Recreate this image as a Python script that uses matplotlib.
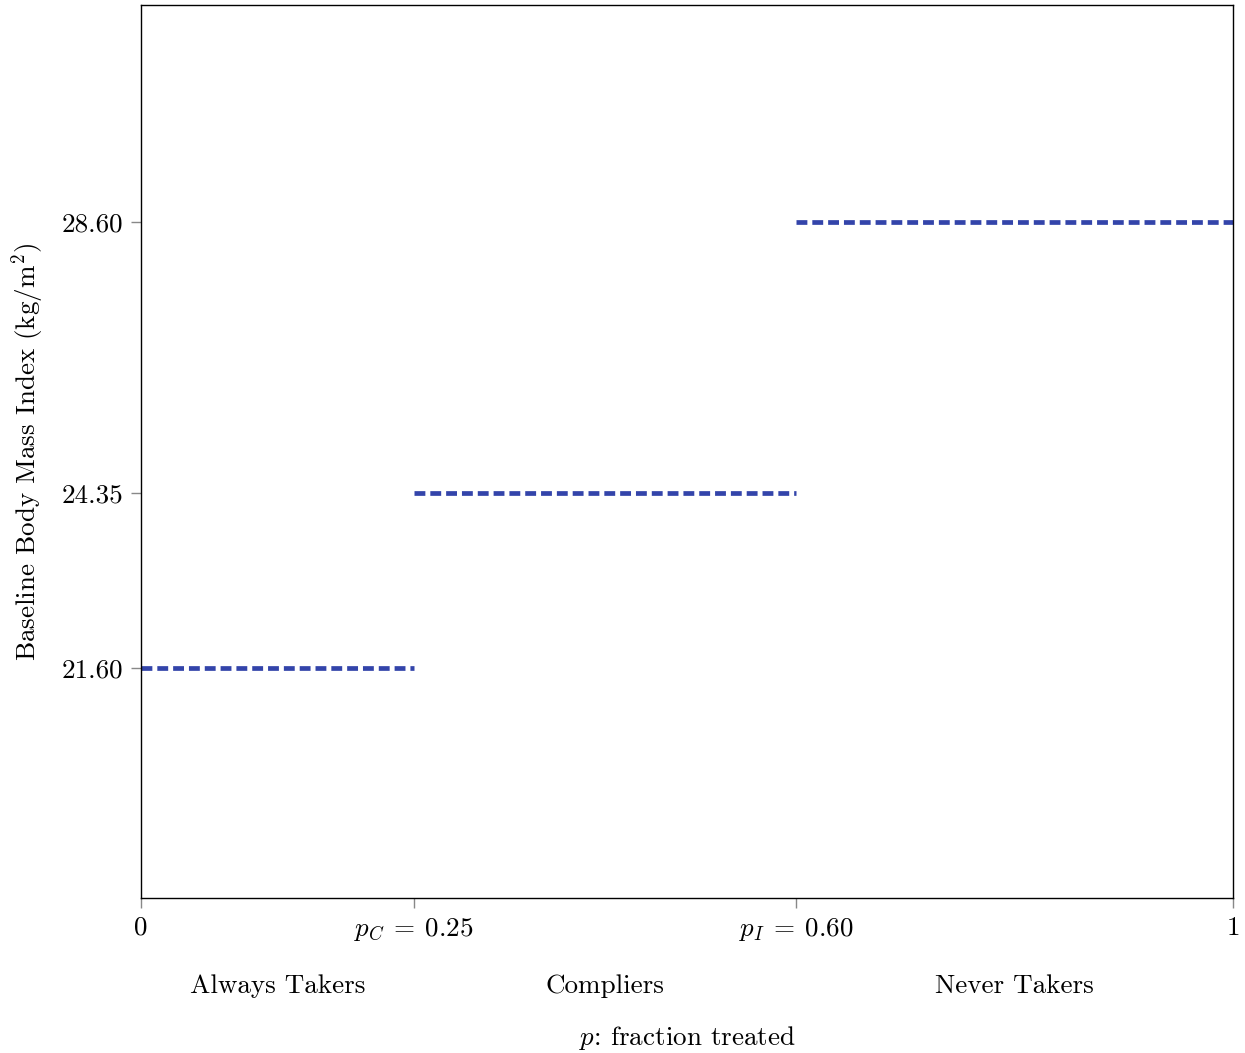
import matplotlib
matplotlib.use('Agg')
import matplotlib.pyplot as plt

plt.rcParams['font.family'] = 'cmr10'
plt.rcParams['mathtext.fontset'] = 'cm'
plt.rcParams['axes.formatter.use_mathtext'] = True

# principal strata: share boundaries and mean baseline BMI
groups = ['Always Takers', 'Compliers', 'Never Takers']
bounds = [0, 0.25, 0.60, 1]
bmi = [21.60, 24.35, 28.60]
xticklabels = ['0', r'$p_C\:=\:0.25$', r'$p_I\:=\:0.60$', '1']

fs = 19.5
fig = plt.figure(figsize=(12.45, 10.53), dpi=100)
ax = fig.add_axes([0.1133, 0.1472, 0.8771, 0.8481])

for i, g in enumerate(groups):
    ax.plot([bounds[i], bounds[i + 1]], [bmi[i], bmi[i]], color='#3344aa',
            lw=3.4, dashes=(2.3, 1.05), solid_capstyle='butt', clip_on=False)
    ax.text((bounds[i] + bounds[i + 1]) / 2, -0.099, g, fontsize=fs,
            ha='center', va='center', transform=ax.get_xaxis_transform())

ax.set_xlim(0, 1)
ax.set_ylim(18, 32)
ax.set_xticks(bounds)
ax.set_xticklabels(xticklabels, fontsize=fs)
ax.set_yticks(bmi)
ax.set_yticklabels(['%.2f' % v for v in bmi], fontsize=fs)
ax.tick_params(direction='out', length=7, width=1, color='#888888', pad=6)

for s in ax.spines.values():
    s.set_linewidth(1)
    s.set_color('black')

ax.set_xlabel('$p$: fraction treated', fontsize=fs, labelpad=58)
ax.set_ylabel('Baseline Body Mass Index (kg/m$^2$)', fontsize=fs, labelpad=11)

fig.savefig('out.png', dpi=100)
